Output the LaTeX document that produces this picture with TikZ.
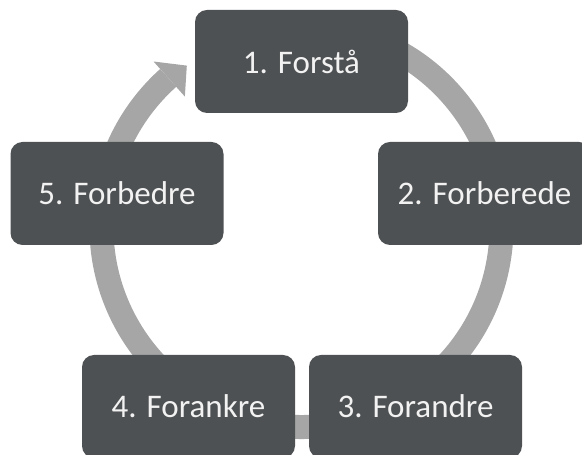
\documentclass[tikz,border=0pt]{standalone}
\usepackage{fontspec}
\setmainfont{Carlito}
\definecolor{boxgray}{HTML}{4E5153}
\definecolor{ringgray}{HTML}{A6A6A6}
\definecolor{txt}{HTML}{F2F2F2}
\begin{document}
\begin{tikzpicture}[x=1pt,y=1pt,
  stagebox/.style={fill=boxgray, rounded corners=12pt, minimum width=213pt, minimum height=103pt,
    inner sep=0pt, text=txt, font=\fontsize{33}{39}\selectfont},
  ringline/.style={draw=ringgray, line width=24pt}]
\useasboundingbox (0,0) rectangle (582,455);
\coordinate (C) at (301.5,228);
% ring
\draw[ringline] ([shift={(80:200)}]C) arc[start angle=80, end angle=-228.2, radius=200];
\fill[ringgray] ([shift={(131.8:222)}]C) -- ([shift={(131.8:175)}]C) -- ([shift={(125.4:198)}]C) -- cycle;
% boxes
\node[stagebox] (s1) at (301.5,393.5) {1. Forstå};
\node[stagebox] (s2) at (484.5,261.5) {2. Forberede};
\node[stagebox] (s3) at (415.5,48.5) {3. Forandre};
\node[stagebox] (s4) at (188.5,48.5) {4. Forankre};
\node[stagebox] (s5) at (117,261.5) {5. Forbedre};
\end{tikzpicture}
\end{document}
